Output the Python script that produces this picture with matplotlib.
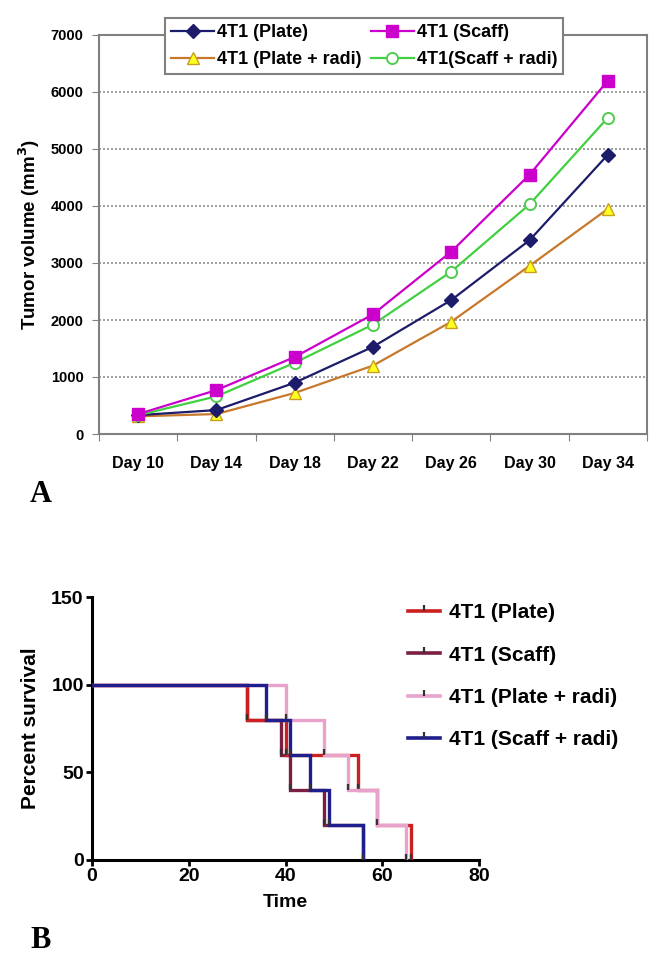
import matplotlib
matplotlib.use("Agg")
import matplotlib.pyplot as plt
from matplotlib.path import Path
from matplotlib.lines import Line2D

plt.rcParams['font.family'] = ['Liberation Sans', 'DejaVu Sans']

# ---------------- Data: panel A ----------------
days = ["Day 10", "Day 14", "Day 18", "Day 22", "Day 26", "Day 30", "Day 34"]
plate = [330, 420, 900, 1530, 2350, 3400, 4900]
scaff = [350, 770, 1350, 2100, 3200, 4550, 6200]
plate_radi = [310, 350, 720, 1200, 1970, 2950, 3950]
scaff_radi = [330, 660, 1250, 1920, 2850, 4030, 5550]
yticks_a = [0, 1000, 2000, 3000, 4000, 5000, 6000, 7000]

# ---------------- Data: panel B (Kaplan-Meier) ----------------
surv_levels = [100, 80, 60, 40, 20, 0]
t_plate = [0, 32, 40, 55, 59, 66]
t_scaff = [0, 32, 39, 41, 48, 56]
t_plate_radi = [0, 40, 48, 53, 59, 65]
t_scaff_radi = [0, 36, 41, 45, 49, 56]
xticks_b = [0, 20, 40, 60, 80]
yticks_b = [0, 50, 100, 150]

W, H = 661, 966
fig = plt.figure(figsize=(W / 100, H / 100), dpi=100)

# ---------------- Panel A ----------------
axA = fig.add_axes([99 / W, 1 - 434 / H, (647 - 99) / W, (434 - 35) / H])
x = list(range(len(days)))
gray = '#808080'
axA.plot(x, plate, color='#1c1c6b', lw=1.6, marker='D', ms=7,
         mfc='#1c1c6b', mec='#1c1c6b', label='4T1 (Plate)', zorder=4)
axA.plot(x, plate_radi, color='#c8782a', lw=1.6, marker='^', ms=9,
         mfc='#ffff20', mec='#c8a020', label='4T1 (Plate + radi)', zorder=3)
axA.plot(x, scaff, color='#cc00cc', lw=1.6, marker='s', ms=8,
         mfc='#cc00cc', mec='#cc00cc', label='4T1 (Scaff)', zorder=5)
axA.plot(x, scaff_radi, color='#40d040', lw=1.6, marker='o', ms=8,
         mfc='white', mec='#50cc50', mew=1.4, label='4T1(Scaff + radi)', zorder=4)

axA.set_xlim(-0.5, len(days) - 0.5)
axA.set_ylim(0, 7000)
axA.set_yticks(yticks_a)
axA.set_yticklabels([str(v) for v in yticks_a], fontweight='bold', fontsize=10.5)
axA.set_xticks([i - 0.5 for i in range(len(days) + 1)])
axA.set_xticklabels([])
axA.set_xticks(x, minor=True)
axA.set_xticklabels(days, minor=True, fontweight='bold', fontsize=11.5)
axA.tick_params(axis='x', which='minor', length=0, pad=16)
axA.tick_params(axis='x', which='major', length=5, color=gray, direction='out')
axA.tick_params(axis='y', length=5, color=gray, direction='out', pad=6)
for v in yticks_a[1:-1]:
    axA.axhline(v, color='#909090', lw=1.2, ls=(0, (1.2, 1.2)), zorder=1)
for s in axA.spines.values():
    s.set_color(gray)
    s.set_linewidth(1.5)
axA.set_ylabel('Tumor volume (mm$\\mathbf{^3}$)', fontweight='bold', fontsize=13.5, labelpad=6)

h, l = axA.get_legend_handles_labels()
leg = fig.legend(h, l, ncol=2, loc='center', bbox_to_anchor=(364 / W, 1 - 46 / H),
                 frameon=True, fancybox=False, edgecolor=gray, framealpha=1,
                 prop={'weight': 'bold', 'size': 13}, handlelength=2.4,
                 handletextpad=0.15, columnspacing=0.5, labelspacing=0.55,
                 borderpad=0.35, borderaxespad=0)
leg.get_frame().set_linewidth(1.5)

fig.text(30 / W, 1 - 495 / H, 'A', family='Liberation Serif', fontweight='bold',
         fontsize=22, ha='left', va='center')

# ---------------- Panel B ----------------
axB = fig.add_axes([92 / W, 1 - 860 / H, (479 - 92) / W, (860 - 597) / H])
tick_marker = Path([(0, 0), (0, 1)], [Path.MOVETO, Path.LINETO])
series_b = [
    (t_scaff, '#7a1e44', '4T1 (Scaff)'),
    (t_plate, '#cc1f1f', '4T1 (Plate)'),
    (t_plate_radi, '#e8a2cc', '4T1 (Plate + radi)'),
    (t_scaff_radi, '#1e1e8c', '4T1 (Scaff + radi)'),
]
handles_b = {}
for i, (ts, col, lab) in enumerate(series_b):
    axB.plot(ts, surv_levels, drawstyle='steps-post', color=col, lw=2.4,
             zorder=3 + i, solid_joinstyle='miter')
    axB.plot(ts[1:], surv_levels[1:], ls='none', marker=tick_marker, ms=9,
             mec='#333333', mew=1.6, zorder=3 + i)
    handles_b[lab] = Line2D([], [], color=col, lw=2.6, marker=tick_marker,
                            ms=9, mec='#333333', mew=1.6)

axB.set_xlim(0, 80)
axB.set_ylim(0, 150)
axB.set_xticks(xticks_b)
axB.set_yticks(yticks_b)
axB.set_xticklabels([str(v) for v in xticks_b], fontweight='bold', fontsize=14)
axB.set_yticklabels([str(v) for v in yticks_b], fontweight='bold', fontsize=14)
for side in ['top', 'right']:
    axB.spines[side].set_visible(False)
for side in ['left', 'bottom']:
    axB.spines[side].set_linewidth(2.2)
    axB.spines[side].set_color('black')
axB.tick_params(length=4, width=2, direction='out', pad=2)
axB.set_xlabel('Time', fontweight='bold', fontsize=14, labelpad=6)
axB.set_ylabel('Percent survival', fontweight='bold', fontsize=15, labelpad=8)

order = ['4T1 (Plate)', '4T1 (Scaff)', '4T1 (Plate + radi)', '4T1 (Scaff + radi)']
fig.legend([handles_b[k] for k in order], order, loc='upper left',
           bbox_to_anchor=(400 / W, 1 - 595 / H), frameon=False,
           prop={'weight': 'bold', 'size': 15}, handlelength=1.5,
           handletextpad=0.45, labelspacing=1.12, borderaxespad=0)

fig.text(30 / W, 1 - 940 / H, 'B', family='Liberation Serif', fontweight='bold',
         fontsize=22, ha='left', va='center')

fig.savefig('out.png', dpi=100, facecolor='white')
